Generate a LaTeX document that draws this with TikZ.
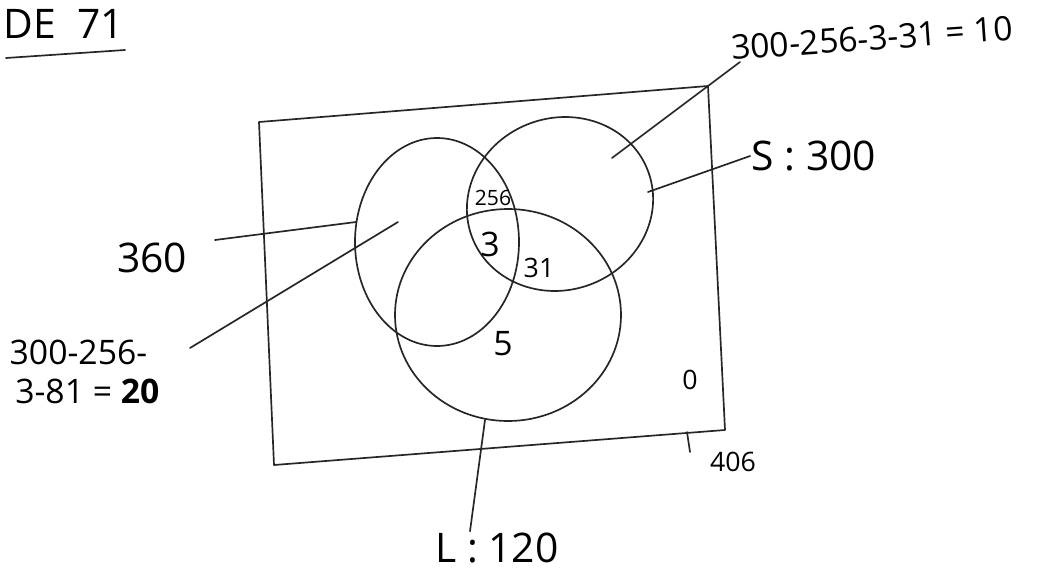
\documentclass[tikz,border=0pt]{standalone}
\usepackage{fontspec}
\setmainfont{Open Sans}
\usetikzlibrary{positioning, calc}

\begin{document}
\begin{tikzpicture}[x=0.025cm, y=-0.025cm, line join=round, line cap=round,
    pen/.style={line width=1.2pt, black!85},
    hugelbl/.style={font=\fontsize{29}{32}\selectfont, inner sep=1pt},
    biglbl/.style={font=\fontsize{24}{30}\selectfont, inner sep=1pt},
    midlbl/.style={font=\fontsize{19}{22}\selectfont, inner sep=1pt},
    smalllbl/.style={font=\fontsize{15}{17}\selectfont, inner sep=1pt}]
        \useasboundingbox (0,0) rectangle (1047,572);
        % title
        \node[hugelbl] (title) at (64,24) {DE\ \ 71};
        \coordinate (ulA) at (6,58);
        \coordinate (ulB) at (125,50);
        \draw[pen] (ulA) -- (ulB);
        % universe
        \coordinate (uNW) at (259,122);
        \coordinate (uNE) at (708,86);
        \coordinate (uSE) at (725,430);
        \coordinate (uSW) at (274,465);
        \draw[pen] (uNW) -- (uNE) -- (uSE) -- (uSW) -- cycle;
        % the three sets
        \draw[pen] (437,242) ellipse (82 and 104);
        \draw[pen, rotate around={20:(560,204)}] (560,204) ellipse (94 and 86);
        \draw[pen] (508,315) ellipse (113 and 106);
        % region counts
        \node[smalllbl] (nAS)  at (493,198) {256};
        \node[biglbl]   (nASL) at (490,244) {3};
        \node[midlbl]   (nSL)  at (539,268) {31};
        \node[biglbl]   (nL)   at (503,344) {5};
        \node[midlbl]   (nOut) at (690,380) {0};
        \node[midlbl]   (nTot) at (733,462) {406};
        \coordinate (totA) at (687,432);
        \coordinate (totB) at (690,452);
        \draw[pen] (totA) -- (totB);
        % outside labels and leaders
        \node[hugelbl] (lblA) at (152,258) {360};
        \coordinate (pA) at (356,222);
        \coordinate (qA) at (215,240);
        \draw[pen] (qA) -- (pA);
        \node[biglbl, align=left, anchor=west] (lblAonly) at (8,372)
            {300-256-\\[-2pt]\,3-81 = \textbf{20}};
        \coordinate (pAonly) at (398,222);
        \coordinate (qAonly) at (190,348);
        \draw[pen] (qAonly) -- (pAonly);
        \node[biglbl, rotate=4] (lblSonly) at (872,38) {300-256-3-31 = 10};
        \coordinate (pSonly) at (612,158);
        \coordinate (qSonly) at (740,62);
        \draw[pen] (pSonly) -- (qSonly);
        \node[hugelbl] (lblS) at (814,156) {S : 300};
        \coordinate (pS) at (648,192);
        \draw[pen] (pS) -- (lblS.west);
        \node[hugelbl] (lblL) at (497,548) {L : 120};
        \coordinate (pL) at (485,420);
        \draw[pen] (pL) -- (lblL.north -| 470,0);
    \end{tikzpicture}
\end{document}
